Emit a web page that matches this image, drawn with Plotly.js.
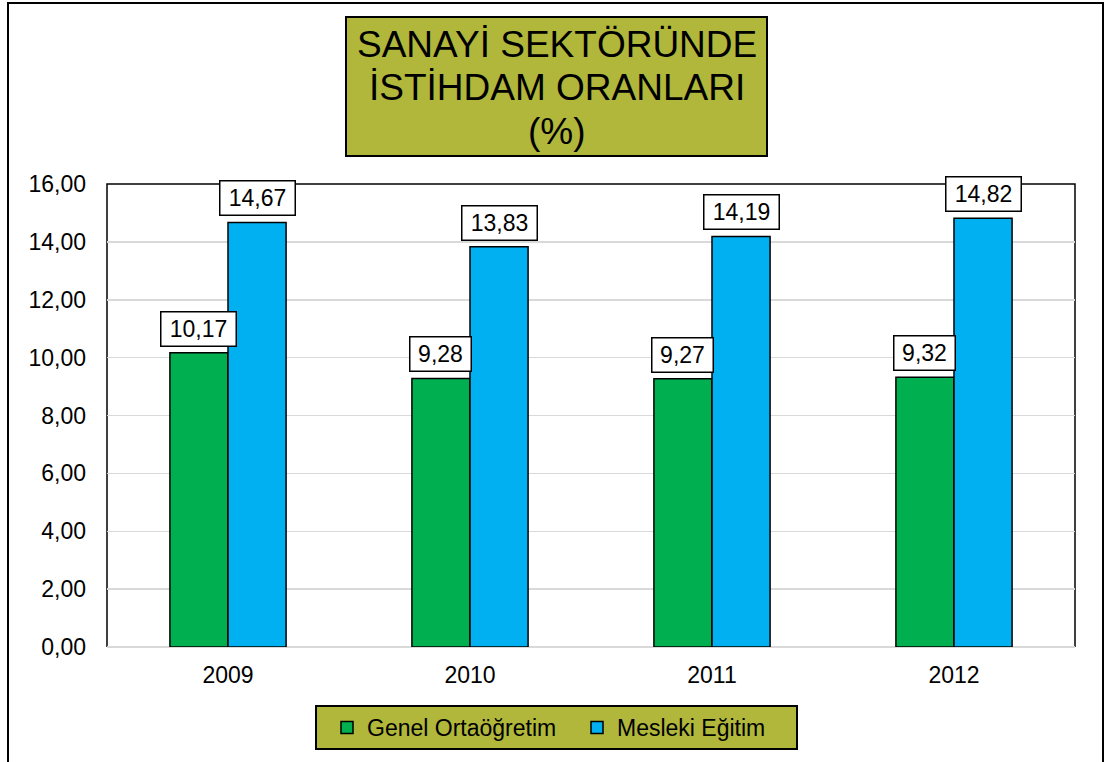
<!DOCTYPE html>
<html>
<head>
<meta charset="utf-8">
<script src="https://cdn.plot.ly/plotly-3.0.1.min.js"></script>
<style>html,body{margin:0;padding:0;background:#fff;}#chart{width:1105px;height:762px;}</style>
</head>
<body>
<div id="chart"></div>
<script>
const years = ['2009', '2010', '2011', '2012'];
const genelOrtaogretim = [10.17, 9.28, 9.27, 9.32];
const meslekiEgitim = [14.67, 13.83, 14.19, 14.82];
const seriesNames = ['Genel Ortaöğretim', 'Mesleki Eğitim'];
const titleLines = ['SANAYİ SEKTÖRÜNDE', 'İSTİHDAM ORANLARI', '(%)'];

const FONT = 'Liberation Sans, Arial, sans-serif';
const OLIVE = '#B0B73B';
const bargap = 0.52;
const barW = (1 - bargap) / 2;

function fmt(v) { return v.toFixed(2).replace('.', ','); }

const traces = [
  { type: 'bar', name: seriesNames[0], x: years, y: genelOrtaogretim,
    marker: { color: '#00B050', line: { color: '#000', width: 1.5 } }, hoverinfo: 'skip' },
  { type: 'bar', name: seriesNames[1], x: years, y: meslekiEgitim,
    marker: { color: '#00B0F0', line: { color: '#000', width: 1.5 } }, hoverinfo: 'skip' }
];

const annotations = [];
[genelOrtaogretim, meslekiEgitim].forEach((arr, s) => {
  arr.forEach((v, i) => {
    const t = fmt(v);
    annotations.push({
      x: i + (s === 0 ? -barW / 2 : barW / 2), y: v, xref: 'x', yref: 'y',
      text: t, showarrow: false, yanchor: 'bottom', yshift: 6,
      width: 14 * t.length, height: 29, align: 'center', valign: 'middle',
      font: { family: FONT, size: 23, color: '#000' },
      bgcolor: '#fff', bordercolor: '#000', borderwidth: 1.5, borderpad: 2
    });
  });
});

// title lines
const titleCentersPx = [45, 88, 131];
titleLines.forEach((t, k) => {
  annotations.push({
    x: (556.5 - 107) / 968, xref: 'paper', y: (647 - titleCentersPx[k]) / 463, yref: 'paper',
    text: t, showarrow: false, xanchor: 'center', yanchor: 'middle',
    font: { family: FONT, size: 37, color: '#000' }
  });
});

const shapes = [
  // outer border
  { type: 'rect', xref: 'paper', yref: 'paper', x0: (8 - 107) / 968, x1: (1103 - 107) / 968,
    y0: (647 - 800) / 463, y1: (647 - 3) / 463, line: { color: '#000', width: 2 }, layer: 'below' },
  // title box
  { type: 'rect', xref: 'paper', yref: 'paper', x0: (346 - 107) / 968, x1: (767 - 107) / 968,
    y0: (647 - 156) / 463, y1: (647 - 17) / 463, fillcolor: OLIVE, line: { color: '#000', width: 2 }, layer: 'below' },
  // legend box
  { type: 'rect', xref: 'paper', yref: 'paper', x0: (316 - 107) / 968, x1: (797 - 107) / 968,
    y0: (647 - 749) / 463, y1: (647 - 706) / 463, fillcolor: OLIVE, line: { color: '#000', width: 2 }, layer: 'below' },
  // plot frame top/left/right
  { type: 'path', xref: 'paper', yref: 'paper', path: 'M0,0 L0,1 L1,1 L1,0',
    line: { color: '#000', width: 1.5 }, layer: 'below' }
];

const layout = {
  width: 1105, height: 762,
  margin: { l: 107, r: 30, t: 184, b: 115 },
  paper_bgcolor: '#fff', plot_bgcolor: '#fff',
  separators: ',.',
  barmode: 'group', bargap: bargap, bargroupgap: 0,
  font: { family: FONT, size: 23, color: '#000' },
  xaxis: { type: 'category', automargin: false, showgrid: false, showline: false, zeroline: false, ticks: '',
    tickfont: { family: FONT, size: 23, color: '#000' }, ticklabelstandoff: 12, fixedrange: true },
  yaxis: { range: [0, 16], dtick: 2, tickformat: '.2f', automargin: false, showgrid: true, gridcolor: '#d9d9d9', gridwidth: 1.5,
    zeroline: true, zerolinecolor: '#d9d9d9', zerolinewidth: 1.5, showline: false, ticks: '',
    tickfont: { family: FONT, size: 23, color: '#000' }, ticklabelstandoff: 20, fixedrange: true },
  showlegend: true,
  legend: { orientation: 'h', xref: 'container', yref: 'container',
    x: 327 / 1105, xanchor: 'left', y: 1 - 727.5 / 762, yanchor: 'middle',
    entrywidth: 205, entrywidthmode: 'pixels',
    bgcolor: 'rgba(0,0,0,0)', borderwidth: 0, font: { family: FONT, size: 23, color: '#000' } },
  annotations: annotations,
  shapes: shapes
};

Plotly.newPlot('chart', traces, layout, { displayModeBar: false, staticPlot: true });
</script>
</body>
</html>
